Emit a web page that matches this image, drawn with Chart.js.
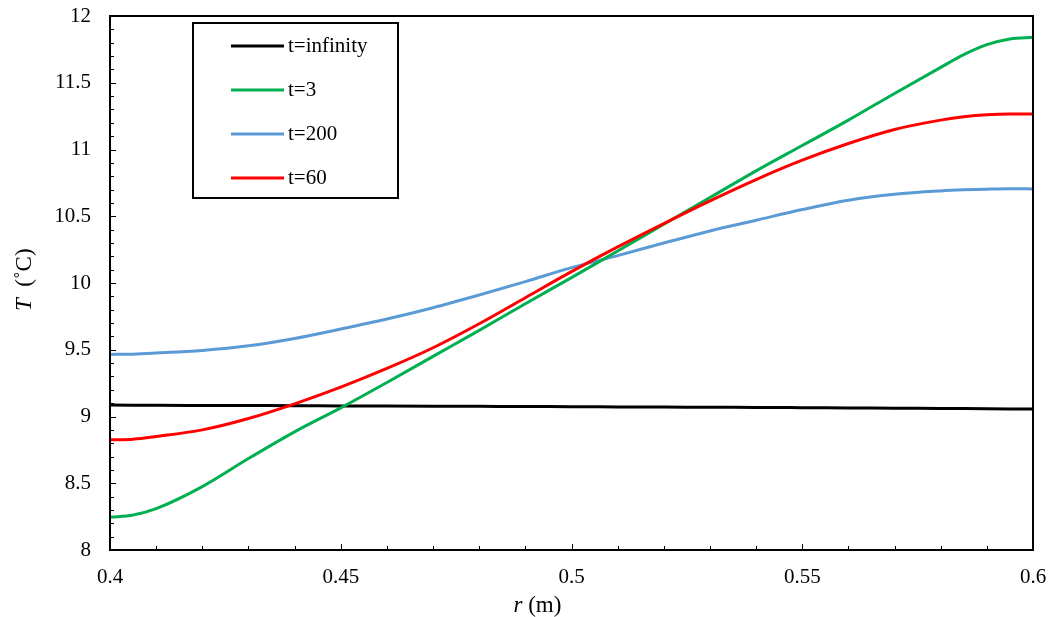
<!DOCTYPE html>
<html>
<head>
<meta charset="utf-8">
<script src="https://cdn.jsdelivr.net/npm/chart.js@4.4.0/dist/chart.umd.min.js"></script>
<style>
  html, body { margin: 0; padding: 0; background: #fff; }
  #wrap { width: 1051px; height: 617px; position: relative; }
  .preload { position: absolute; left: -9999px; top: 0; font-family: "Liberation Serif"; }
</style>
</head>
<body>
<span class="preload">0.5 t=infinity <i>r</i></span>
<div id="wrap"><canvas id="chart" width="1051" height="617"></canvas></div>
<script>
// radius (m)
const rValues = [0.40, 0.405, 0.41, 0.42, 0.43, 0.44, 0.45, 0.46, 0.47, 0.48, 0.49, 0.50,
  0.51, 0.52, 0.53, 0.54, 0.55, 0.56, 0.57, 0.58, 0.585, 0.59, 0.595, 0.60];

// temperature profiles (°C)
const tInfinity = [9.086, 9.085, 9.084, 9.083, 9.082, 9.081, 9.079, 9.078, 9.077, 9.076, 9.075, 9.073,
  9.072, 9.071, 9.069, 9.068, 9.066, 9.064, 9.062, 9.060, 9.059, 9.058, 9.057, 9.056];
const t3 = [8.245, 8.262, 8.31, 8.475, 8.685, 8.885, 9.065, 9.255, 9.45, 9.645, 9.845, 10.04,
  10.24, 10.44, 10.64, 10.84, 11.03, 11.22, 11.42, 11.615, 11.71, 11.785, 11.828, 11.84];
const t200 = [9.465, 9.467, 9.475, 9.495, 9.53, 9.585, 9.655, 9.73, 9.815, 9.91, 10.01, 10.115,
  10.205, 10.30, 10.39, 10.47, 10.55, 10.62, 10.665, 10.69, 10.698, 10.703, 10.706, 10.705];
const t60 = [8.825, 8.83, 8.85, 8.90, 8.985, 9.095, 9.22, 9.36, 9.515, 9.695, 9.89, 10.085,
  10.27, 10.445, 10.615, 10.775, 10.92, 11.045, 11.15, 11.22, 11.245, 11.26, 11.265, 11.265];

const seriesLabels = ["t=infinity", "t=3", "t=200", "t=60"];
const seriesColors = ["#000000", "#00B050", "#5B9BD5", "#FF0000"];
const seriesValues = [tInfinity, t3, t200, t60];
const drawOrder = [4, 2, 3, 1]; // red on top, black at the bottom

const serif = "'Liberation Serif', 'Times New Roman', Times, 'DejaVu Serif', serif";

const toPoints = (ys) => ys.map((y, i) => ({ x: rValues[i], y }));

// no extra room for half labels: the plot box is set by layout padding only
const noScalePadding = (scale) => {
  scale.paddingLeft = 0;
  scale.paddingRight = 0;
  scale.paddingTop = 0;
  scale.paddingBottom = 0;
};

// inside ticks, frame, axis titles and the boxed legend
const decorations = {
  id: "decorations",
  afterDraw(chart) {
    const { ctx, chartArea: a, scales } = chart;
    const xs = scales.x, ys = scales.y;
    ctx.save();

    // tick marks pointing into the plot
    ctx.strokeStyle = "#000";
    ctx.lineWidth = 1;
    for (let i = 0; i <= 20; i++) {
      const px = Math.round(xs.getPixelForValue(0.4 + i * 0.01)) + 0.5;
      const len = i % 5 === 0 ? 6 : 4;
      ctx.beginPath();
      ctx.moveTo(px, a.bottom);
      ctx.lineTo(px, a.bottom - len);
      ctx.stroke();
    }
    for (let i = 0; i <= 40; i++) {
      const py = Math.round(ys.getPixelForValue(8 + i * 0.1)) + 0.5;
      const len = i % 5 === 0 ? 6 : 4;
      ctx.beginPath();
      ctx.moveTo(a.left, py);
      ctx.lineTo(a.left + len, py);
      ctx.stroke();
    }

    // frame
    ctx.lineWidth = 2;
    ctx.strokeRect(a.left, a.top, a.right - a.left, a.bottom - a.top);

    // x title: italic r + (m)
    ctx.fillStyle = "#000";
    ctx.textBaseline = "alphabetic";
    ctx.textAlign = "left";
    let tx = (a.left + a.right) / 2 - 58;
    const ty = chart.height - 5;
    ctx.font = "italic 23px " + serif;
    ctx.fillText("r", tx, ty);
    tx += ctx.measureText("r").width;
    ctx.font = "23px " + serif;
    ctx.fillText(" (m)", tx, ty);

    // y title, rotated: italic T + (°C)
    ctx.save();
    ctx.translate(31, (a.top + a.bottom) / 2 + 28);
    ctx.rotate(-Math.PI / 2);
    ctx.font = "italic 23px " + serif;
    ctx.fillText("T", 0, 0);
    const off = ctx.measureText("T").width;
    ctx.font = "23px " + serif;
    ctx.fillText("  (\u02DAC)", off, 0);
    ctx.restore();

    // legend box
    const bx = a.left + 83, by = a.top + 7, bw = 205, bh = 175;
    ctx.fillStyle = "#fff";
    ctx.fillRect(bx, by, bw, bh);
    ctx.lineWidth = 2;
    ctx.strokeStyle = "#000";
    ctx.strokeRect(bx, by, bw, bh);
    ctx.font = "21px " + serif;
    ctx.textBaseline = "middle";
    seriesLabels.forEach((label, i) => {
      const rowY = by + 23 + i * 44;
      ctx.strokeStyle = seriesColors[i];
      ctx.lineWidth = 3;
      ctx.beginPath();
      ctx.moveTo(bx + 38, rowY);
      ctx.lineTo(bx + 91, rowY);
      ctx.stroke();
      ctx.fillStyle = "#000";
      ctx.fillText(label, bx + 95, rowY);
    });

    ctx.restore();
  },
};

function drawChart() {
  new Chart(document.getElementById("chart"), {
    type: "line",
    data: {
      datasets: seriesLabels.map((label, i) => ({
        label,
        data: toPoints(seriesValues[i]),
        borderColor: seriesColors[i],
        backgroundColor: seriesColors[i],
        borderWidth: 3,
        pointRadius: 0,
        cubicInterpolationMode: "monotone",
        fill: false,
        order: drawOrder[i],
      })),
    },
    options: {
      responsive: false,
      animation: false,
      devicePixelRatio: 1,
      layout: { padding: { top: 16, right: 18, left: 0, bottom: 0 } },
      plugins: {
        legend: { display: false },
        tooltip: { enabled: false },
      },
      scales: {
        x: {
          type: "linear",
          min: 0.4,
          max: 0.6,
          grid: { display: false, drawTicks: false },
          border: { display: false },
          ticks: {
            stepSize: 0.05,
            padding: 15,
            color: "#000",
            font: { family: serif, size: 21 },
            maxRotation: 0,
            callback: (v) => String(Number(v.toFixed(2))),
          },
          afterFit: (scale) => { scale.height = 67; noScalePadding(scale); },
        },
        y: {
          min: 8,
          max: 12,
          grid: { display: false, drawTicks: false },
          border: { display: false },
          ticks: {
            stepSize: 0.5,
            padding: 19,
            color: "#000",
            font: { family: serif, size: 21 },
            callback: (v) => String(Number(v.toFixed(1))),
          },
          afterFit: (scale) => { scale.width = 110; noScalePadding(scale); },
        },
      },
    },
    plugins: [decorations],
  });
}

if (document.fonts && document.fonts.load) {
  Promise.all([
    document.fonts.load("21px 'Liberation Serif'"),
    document.fonts.load("italic 23px 'Liberation Serif'"),
  ]).then(drawChart, drawChart);
} else {
  drawChart();
}
</script>
</body>
</html>
